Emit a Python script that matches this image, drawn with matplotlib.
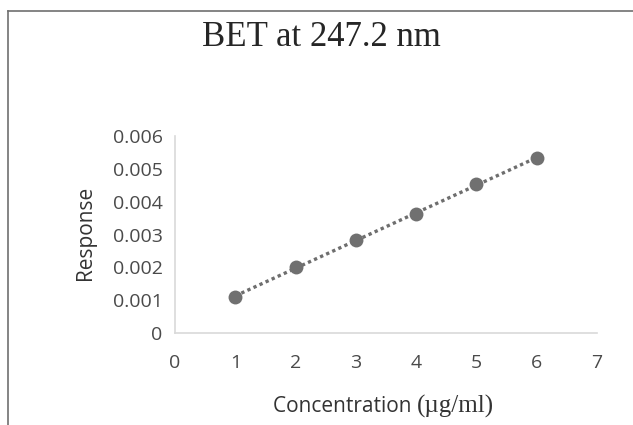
import matplotlib
matplotlib.use("Agg")
import matplotlib.pyplot as plt
from matplotlib.lines import Line2D
import numpy as np

# data
concentration = [1, 2, 3, 4, 5, 6]
response = [0.00110, 0.00201, 0.00283, 0.00362, 0.00453, 0.00533]
x_ticks = [0, 1, 2, 3, 4, 5, 6, 7]
y_ticks = [0, 0.001, 0.002, 0.003, 0.004, 0.005, 0.006]
y_tick_labels = ["0", "0.001", "0.002", "0.003", "0.004", "0.005", "0.006"]

W, H = 633, 425
fig = plt.figure(figsize=(W / 100, H / 100), dpi=100)
fig.patch.set_facecolor("white")

ax = fig.add_axes([175 / W, 1 - 333 / H, (597 - 175) / W, (333 - 136) / H])

# linear trendline (dotted) plus markers
slope, icpt = np.polyfit(concentration, response, 1)
xs = np.array([concentration[0], concentration[-1]])
ax.plot(xs, slope * xs + icpt, linestyle=(0, (1, 1)), color="#6e6e6e",
        linewidth=2.4, dash_capstyle="butt", zorder=2)
ax.plot(concentration, response, linestyle="none", marker="o", markersize=10,
        color="#707070", markeredgewidth=0, zorder=3)

ax.set_xlim(0, 7)
ax.set_ylim(0, 0.006)
ax.set_xticks(x_ticks)
ax.set_yticks(y_ticks)
ax.set_yticklabels(y_tick_labels)

for s in ["top", "right"]:
    ax.spines[s].set_visible(False)
for s in ["left", "bottom"]:
    ax.spines[s].set_color("#d9d9d9")
    ax.spines[s].set_linewidth(1.2)

ax.tick_params(axis="both", length=0, labelsize=14, labelcolor="#4a4a4a")
ax.tick_params(axis="x", pad=15)
ax.tick_params(axis="y", pad=9)
for lab in ax.get_xticklabels() + ax.get_yticklabels():
    lab.set_fontfamily("Open Sans")

fig.text(321 / W, 1 - 37 / H, "BET at 247.2 nm", ha="center", va="center",
         fontsize=25, family="Liberation Serif", color="#262626")

fig.text(85 / W, 1 - 233 / H, "Response", rotation=90, ha="center", va="center",
         fontsize=15, family="Open Sans", color="#333333")

# x label: sans part + serif unit part
t1 = fig.text(273 / W, 1 - 404 / H, "Concentration ", ha="left", va="center_baseline",
              fontsize=15, family="Open Sans", color="#333333")
fig.canvas.draw()
bb = t1.get_window_extent()
fig.text(bb.x1 / W, 1 - 404 / H, "(\u00b5g/ml)", ha="left", va="center_baseline",
         fontsize=18, family="Liberation Serif", color="#333333")

# outer frame lines (top and left) like the cropped screenshot
fig.add_artist(Line2D([8 / W, 1], [1 - 10.5 / H, 1 - 10.5 / H], color="#707070",
                      linewidth=1.2, transform=fig.transFigure))
fig.add_artist(Line2D([8 / W, 8 / W], [0, 1 - 10.5 / H], color="#707070",
                      linewidth=1.2, transform=fig.transFigure))

fig.savefig("out.png", dpi=100)
